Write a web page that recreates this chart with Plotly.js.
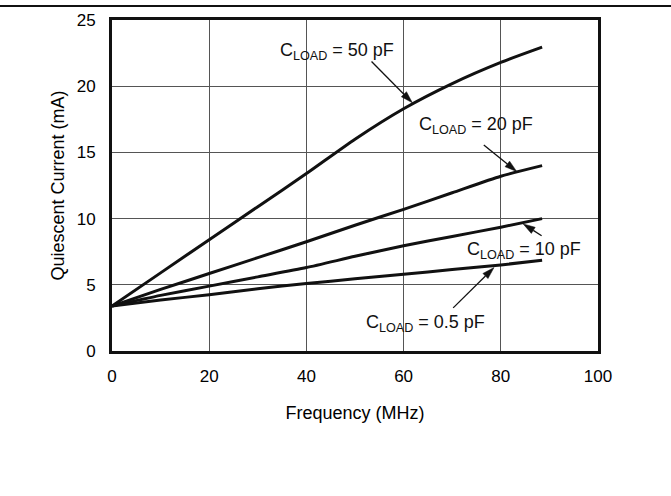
<!DOCTYPE html>
<html>
<head>
<meta charset="utf-8">
<script src="https://cdn.plot.ly/plotly-3.0.1.min.js"></script>
<style>html,body{margin:0;padding:0;background:#fff;}#chart{width:671px;height:496px;}</style>
</head>
<body>
<div id="chart"></div>
<script>
// Frequency (MHz)
const freq = [0, 10, 20, 30, 40, 50, 60, 70, 80, 88.5];
// Quiescent current (mA) per load capacitance
const i50pF  = [3.4, 5.9, 8.4, 10.9, 13.4, 16.0, 18.3, 20.2, 21.8, 22.95];
const i20pF  = [3.4, 4.65, 5.85, 7.05, 8.25, 9.5, 10.7, 11.95, 13.2, 14.0];
const i10pF  = [3.4, 4.2, 4.9, 5.6, 6.3, 7.15, 7.95, 8.65, 9.35, 10.0];
const i05pF  = [3.4, 3.85, 4.25, 4.7, 5.1, 5.45, 5.8, 6.15, 6.5, 6.85];
const seriesNames = ['50 pF', '20 pF', '10 pF', '0.5 pF'];
const seriesVals = [i50pF, i20pF, i10pF, i05pF];
const xTicks = [0, 20, 40, 60, 80, 100];
const yTicks = [0, 5, 10, 15, 20, 25];

const FONT = 'Liberation Sans, Arial, Helvetica, sans-serif';
const W = 671, H = 496, ML = 112, MR = 73, MT = 20, MB = 145;
const XR = [0, 100], YR = [0, 25];
const sx = (W - ML - MR) / (XR[1] - XR[0]);
const sy = (H - MT - MB) / (YR[1] - YR[0]);

const traces = seriesVals.map((v, k) => ({
  x: freq, y: v, type: 'scatter', mode: 'lines', name: seriesNames[k],
  line: {color: '#111', width: 3, shape: 'spline', smoothing: 0.6},
  hoverinfo: 'skip'
}));

function label(txt, x, y) {
  return {text: 'C<sub>LOAD</sub> = ' + txt, x: x, y: y, xref: 'x', yref: 'y',
    xanchor: 'left', yanchor: 'middle', showarrow: false,
    font: {family: FONT, size: 18, color: '#111'}};
}

// arrow made of a shaft line and a filled head, given head and tail in data units
function arrowShapes(hx, hy, tx, ty) {
  const dx = (hx - tx) * sx, dy = (hy - ty) * sy;
  const L = Math.hypot(dx, dy), ux = dx / L, uy = dy / L;
  const hl = 12, hw = 3.6;
  const bx = -ux * hl, by = -uy * hl;           // base of head, relative to tip (px)
  const nx = -uy * hw, ny = ux * hw;
  const p = (ox, oy) => (hx + ox / sx) + ',' + (hy + oy / sy);
  return [
    {type: 'line', xref: 'x', yref: 'y', x0: tx, y0: ty, x1: hx + bx / sx, y1: hy + by / sy,
      line: {color: '#111', width: 1.3}},
    {type: 'path', xref: 'x', yref: 'y',
      path: 'M' + p(0, 0) + ' L' + p(bx + nx, by + ny) + ' L' + p(bx - nx, by - ny) + ' Z',
      fillcolor: '#111', line: {color: '#111', width: 0.5}}
  ];
}

const annotations = [
  label('50 pF', 34.2, 22.6),
  label('20 pF', 62.7, 17.0),
  label('10 pF', 72.6, 7.58),
  label('0.5 pF', 51.85, 2.11)
];

const shapes = [{type: 'line', xref: 'paper', yref: 'paper', x0: -0.2305, x1: 1.151, y0: 1.042, y1: 1.042,
    line: {color: '#111', width: 2}}]
  .concat(arrowShapes(61.8, 18.75, 53.4, 21.86))
  .concat(arrowShapes(83.27, 13.56, 76.5, 15.56))
  .concat(arrowShapes(84.6, 9.6, 88.4, 8.71))
  .concat(arrowShapes(78.6, 6.3, 70.2, 3.26));

const layout = {
  width: W, height: H,
  margin: {l: ML, r: MR, t: MT, b: MB},
  paper_bgcolor: '#fff', plot_bgcolor: '#fff',
  showlegend: false,
  font: {family: FONT, color: '#000', size: 17},
  xaxis: {
    range: XR, tickvals: xTicks, ticktext: xTicks.map(String),
    showgrid: true, gridcolor: '#555', gridwidth: 1, zeroline: false,
    showline: true, linecolor: '#111', linewidth: 3, mirror: true,
    ticks: '', ticklabelstandoff: 8,
    tickfont: {family: FONT, size: 17, color: '#000'},
    title: {text: 'Frequency (MHz)', font: {family: FONT, size: 18, color: '#000'}, standoff: 21}
  },
  yaxis: {
    range: YR, tickvals: yTicks, ticktext: yTicks.map(String),
    showgrid: true, gridcolor: '#555', gridwidth: 1, zeroline: false,
    showline: true, linecolor: '#111', linewidth: 3, mirror: true,
    ticks: '', ticklabelstandoff: 10,
    tickfont: {family: FONT, size: 17, color: '#000'},
    title: {text: 'Quiescent Current (mA)', font: {family: FONT, size: 18, color: '#000'}, standoff: 8}
  },
  shapes: shapes,
  annotations: annotations
};

Plotly.newPlot('chart', traces, layout, {displayModeBar: false, staticPlot: true});
</script>
</body>
</html>
